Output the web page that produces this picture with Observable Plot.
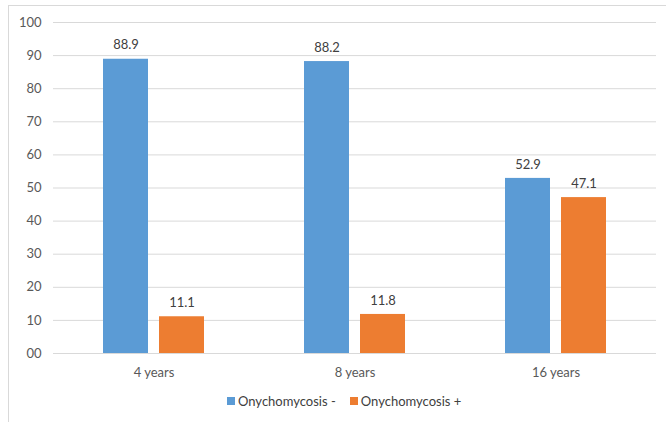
<!DOCTYPE html>
<html>
<head>
<meta charset="utf-8">
<script src="https://cdn.jsdelivr.net/npm/d3@7"></script>
<script src="https://cdn.jsdelivr.net/npm/@observablehq/plot@0.6"></script>
<style>
  html, body { margin: 0; padding: 0; background: #fff; }
  #wrap { position: relative; width: 666px; height: 422px; overflow: hidden; font-family: Lato, "Open Sans", sans-serif; }
  .bt { position: absolute; left: 8px; top: 5px; width: 660px; height: 1px; background: #d9d9d9; }
  .bl { position: absolute; left: 8px; top: 5px; width: 1px; height: 420px; background: #d9d9d9; }
  #chart { position: absolute; left: 0; top: 0; }
  #legend { position: absolute; left: 227px; top: 393px; display: flex; align-items: center; font-size: 13px; color: #404040; white-space: nowrap; }
  #legend .sw { display: inline-block; width: 8px; height: 8px; margin-right: 3px; }
  #legend .item { display: flex; align-items: center; margin-right: 14px; }
</style>
</head>
<body>
<div id="wrap">
  <div class="bt"></div>
  <div class="bl"></div>
  <div id="chart"></div>
  <div id="legend"></div>
</div>
<script>
const categories = ["4 years", "8 years", "16 years"];
const series = ["Onychomycosis -", "Onychomycosis +"];
const negativeValues = [88.9, 88.2, 52.9];
const positiveValues = [11.1, 11.8, 47.1];
const seriesColors = ["#5B9BD5", "#ED7D31"];
const yTicks = [0, 10, 20, 30, 40, 50, 60, 70, 80, 90, 100];

const rows = [];
categories.forEach((c, i) => {
  rows.push({category: c, series: series[0], value: negativeValues[i]});
  rows.push({category: c, series: series[1], value: positiveValues[i]});
});

const chart = Plot.plot({
  width: 666,
  height: 385,
  marginLeft: 52,
  marginRight: 10,
  marginTop: 22,
  marginBottom: 32,
  style: {fontFamily: "Lato, 'Open Sans', sans-serif", fontSize: "13px", color: "#595959", background: "transparent"},
  fx: {domain: categories, padding: 0, label: null},
  x: {domain: series, paddingInner: 0.19, paddingOuter: 0.86, axis: null},
  y: {domain: [0, 100], ticks: yTicks, label: null},
  color: {domain: series, range: seriesColors},
  marks: [
    Plot.gridY(yTicks, {stroke: "#d9d9d9", strokeOpacity: 1}),
    Plot.axisY(yTicks, {tickSize: 0, tickPadding: 12, tickFormat: d => d === 0 ? "00" : String(d), label: null, fill: "#595959"}),
    Plot.axisFx({tickSize: 0, tickPadding: 14, label: null, fill: "#595959", anchor: "bottom"}),
    Plot.barY(rows, {fx: "category", x: "series", y: "value", fill: "series"}),
    Plot.text(rows, {fx: "category", x: "series", y: "value", text: d => d.value.toFixed(1), dy: -14, fill: "#404040", fontSize: 13})
  ]
});
document.getElementById("chart").appendChild(chart);

const legend = document.getElementById("legend");
series.forEach((s, i) => {
  const item = document.createElement("div");
  item.className = "item";
  const sw = document.createElement("span");
  sw.className = "sw";
  sw.style.background = seriesColors[i];
  const t = document.createElement("span");
  t.textContent = s;
  item.appendChild(sw);
  item.appendChild(t);
  legend.appendChild(item);
});
</script>
</body>
</html>
